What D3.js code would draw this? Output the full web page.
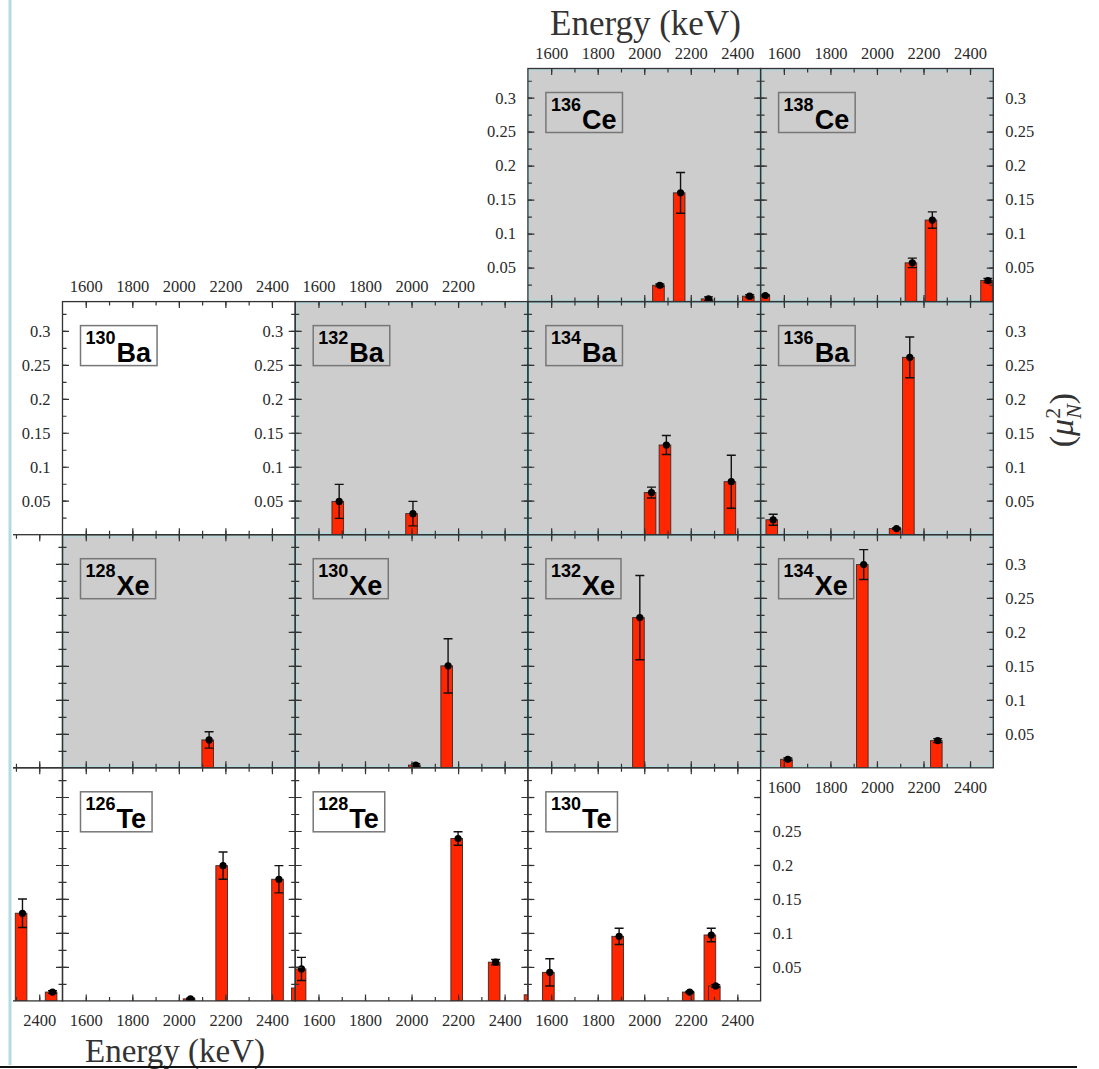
<!DOCTYPE html>
<html>
<head>
<meta charset="utf-8">
<style>
  html, body { margin: 0; padding: 0; background: #fff; }
  svg { display: block; }
</style>
</head>
<body>
<svg width="1099" height="1069"></svg>
<script src="https://cdn.jsdelivr.net/npm/d3@7"></script>
<script>

// each point: [energy keV, B(M1) value, error]
var ce136 = [[2067, 0.024, 0.002], [2156, 0.16, 0.03], [2276, 0.004, 0.003], [2453, 0.008, 0.002]];
var ce138 = [[1520, 0.009, 0.001], [2152, 0.057, 0.007], [2238, 0.12, 0.012], [2477, 0.031, 0.003]];
var ba130 = [];
var ba132 = [[1689, 0.049, 0.025], [2006, 0.031, 0.018]];
var ba134 = [[2031, 0.062, 0.008], [2095, 0.132, 0.014], [2374, 0.078, 0.039]];
var ba136 = [[1554, 0.022, 0.008], [2084, 0.009, 0.001], [2141, 0.261, 0.03]];
var xe128 = [[2130, 0.041, 0.012]];
var xe130 = [[2018, 0.004, 0.002], [2157, 0.15, 0.04]];
var xe132 = [[1981, 0.221, 0.062]];
var xe134 = [[1617, 0.0125, 0.002], [1943, 0.299, 0.022], [2261, 0.04, 0.003]];
var te126 = [[2050, 0.003, 0.001], [2190, 0.199, 0.02], [2430, 0.179, 0.02], [2515, 0.019, 0]];
var te128 = [[1527, 0.047, 0.017], [2200, 0.239, 0.01], [2361, 0.057, 0.004], [2515, 0.009, 0]];
var te130 = [[1594, 0.042, 0.02], [1892, 0.095, 0.012], [2195, 0.013, 0.001], [2288, 0.097, 0.01], [2307, 0.022, 0.002]];
// panels cut off at the left edge of the picture
var cutXe = [];
var cutTe = [[2328, 0.129, 0.021], [2457, 0.013, 0.002]];

var masses  = ["136", "138", "130", "132", "134", "136", "128", "130", "132", "134", "126", "128", "130", "", ""];
var symbols = ["Ce", "Ce", "Ba", "Ba", "Ba", "Ba", "Xe", "Xe", "Xe", "Xe", "Te", "Te", "Te", "", ""];
var series  = [ce136, ce138, ba130, ba132, ba134, ba136, xe128, xe130, xe132, xe134, te126, te128, te130, cutXe, cutTe];

var xMinor = [1600, 1700, 1800, 1900, 2000, 2100, 2200, 2300, 2400];
var xMajor = [1600, 1800, 2000, 2200, 2400];
var yMinor = [0.025, 0.05, 0.075, 0.1, 0.125, 0.15, 0.175, 0.2, 0.225, 0.25, 0.275, 0.3, 0.325];
var yMajor = [0.05, 0.1, 0.15, 0.2, 0.25, 0.3];
var eDomain = [1500, 2500], bDomain = [0, 0.343];

// grid cell of each panel: row, column, gray background
var cells = [[1,3,1],[1,4,1],[2,1,0],[2,2,1],[2,3,1],[2,4,1],[3,1,1],[3,2,1],[3,3,1],[3,4,1],[4,1,0],[4,2,0],[4,3,0],[3,0,0],[4,0,0]];

var X0 = 62.5, CW = 232.7, Y0 = 68.5, RH = 233.1, CUT = 13;
var serif = "'Liberation Serif','Times New Roman',serif";
var sans = "'Liberation Sans',Arial,Helvetica,sans-serif";

var svg = d3.select("svg");
var defs = svg.append("defs");

function scales(row, col) {
  var l = X0 + (col - 1) * CW, t = Y0 + (row - 1) * RH;
  return {
    l: l, t: t,
    x: d3.scaleLinear().domain(eDomain).range([l, l + CW]),
    y: d3.scaleLinear().domain(bDomain).range([t + RH, t])
  };
}

// left edge strip of the screenshot
svg.append("line").attr("x1", 10).attr("x2", 10).attr("y1", 0).attr("y2", 1065)
  .attr("stroke", "#b3dbe2").attr("stroke-width", 3);

var layerBg = svg.append("g"), layerAxes = svg.append("g"), layerText = svg.append("g");

cells.forEach(function(c, i) {
  var s = scales(c[0], c[1]);
  var clipL = Math.max(s.l, CUT);
  var id = "clip" + i;
  defs.append("clipPath").attr("id", id).append("rect")
    .attr("x", clipL).attr("y", s.t).attr("width", s.l + CW - clipL).attr("height", RH);
  defs.append("clipPath").attr("id", "cut" + i).append("rect")
    .attr("x", clipL - (c[1] == 0 ? 0 : 20)).attr("y", s.t - 20).attr("width", s.l + CW - clipL + 40).attr("height", RH + 40);

  var g = layerBg.append("g").attr("clip-path", "url(#" + id + ")");
  g.append("rect").attr("x", s.l).attr("y", s.t).attr("width", CW).attr("height", RH)
    .attr("fill", c[2] ? "#cdcdcd" : "#fff");
  if (c[2]) {
    g.append("rect").attr("x", s.l + 1.5).attr("y", s.t + 1.5).attr("width", CW - 3).attr("height", RH - 3)
      .attr("fill", "none").attr("stroke", "#b0d8dc").attr("stroke-width", 1.2);
  }

  var pts = series[i];
  g.selectAll("rect.bar").data(pts).enter().append("rect")
    .attr("class", "bar")
    .attr("x", function(d) { return s.x(d[0] - 31); })
    .attr("width", function(d) { return s.x(d[0] + 19) - s.x(d[0] - 31); })
    .attr("y", function(d) { return s.y(d[1]); })
    .attr("height", function(d) { return s.y(0) - s.y(d[1]); })
    .attr("fill", "#ff2600").attr("stroke", "#3a2a28").attr("stroke-width", 0.9);

  var eb = g.selectAll("g.err").data(pts.filter(function(d) { return d[2] > 0; })).enter().append("g");
  eb.append("line")
    .attr("x1", function(d) { return s.x(d[0]); }).attr("x2", function(d) { return s.x(d[0]); })
    .attr("y1", function(d) { return s.y(d[1] - d[2]); }).attr("y2", function(d) { return s.y(d[1] + d[2]); });
  eb.append("line")
    .attr("x1", function(d) { return s.x(d[0]) - 4.5; }).attr("x2", function(d) { return s.x(d[0]) + 4.5; })
    .attr("y1", function(d) { return s.y(d[1] + d[2]); }).attr("y2", function(d) { return s.y(d[1] + d[2]); });
  eb.append("line")
    .attr("x1", function(d) { return s.x(d[0]) - 4.5; }).attr("x2", function(d) { return s.x(d[0]) + 4.5; })
    .attr("y1", function(d) { return s.y(d[1] - d[2]); }).attr("y2", function(d) { return s.y(d[1] - d[2]); });
  eb.selectAll("line").attr("stroke", "#111").attr("stroke-width", 1.4);

  g.selectAll("circle").data(pts).enter().append("circle")
    .attr("cx", function(d) { return s.x(d[0]); })
    .attr("cy", function(d) { return s.y(d[1]); })
    .attr("r", 3.6).attr("fill", "#000");

  // frame and inward ticks on all four sides
  var a = layerAxes.append("g").attr("clip-path", "url(#cut" + i + ")");
  a.append("rect").attr("x", s.l).attr("y", s.t).attr("width", CW).attr("height", RH)
    .attr("fill", "none").attr("stroke", "#333").attr("stroke-width", 1.3);
  [[xMinor, 4], [xMajor, 6.5]].forEach(function(v) {
    a.append("g").attr("transform", "translate(0," + (s.t + RH) + ")")
      .call(d3.axisBottom(s.x).tickValues(v[0]).tickSize(-v[1]).tickFormat(""));
    a.append("g").attr("transform", "translate(0," + s.t + ")")
      .call(d3.axisTop(s.x).tickValues(v[0]).tickSize(-v[1]).tickFormat(""));
  });
  [[yMinor, 4], [yMajor, 6.5]].forEach(function(v) {
    a.append("g").attr("transform", "translate(" + s.l + ",0)")
      .call(d3.axisLeft(s.y).tickValues(v[0]).tickSize(-v[1]).tickFormat(""));
    a.append("g").attr("transform", "translate(" + (s.l + CW) + ",0)")
      .call(d3.axisRight(s.y).tickValues(v[0]).tickSize(-v[1]).tickFormat(""));
  });
  a.selectAll(".domain").remove();
  a.selectAll(".tick line").attr("stroke", "#333").attr("stroke-width", 1.2);

  // nucleus label box
  if (masses[i]) {
    var bx = s.l + 18, by = s.t + 24;
    var lg = layerText.append("g");
    var box = lg.append("rect");
    var sup = lg.append("text").attr("x", bx + 5).attr("y", by + 18.5)
      .style("font-family", sans).style("font-weight", "bold").style("font-size", "18px").text(masses[i]);
    var w1 = sup.node().getComputedTextLength();
    var el = lg.append("text").attr("x", bx + 6 + w1).attr("y", by + 36.5)
      .style("font-family", sans).style("font-weight", "bold").style("font-size", "27px").text(symbols[i]);
    var w2 = el.node().getComputedTextLength();
    box.attr("x", bx).attr("y", by).attr("width", w1 + w2 + 12).attr("height", 40)
      .attr("fill", c[2] ? "none" : "#fff").attr("stroke", "#777").attr("stroke-width", 1.5);
  }
});

// tick labels
function styleAxis(g) {
  g.select(".domain").remove();
  g.attr("font-family", serif).attr("font-size", 16.5);
  g.selectAll("text").attr("fill", "#2a2a2a");
}
var topLabels = [[1, 3, xMajor], [1, 4, xMajor], [2, 1, xMajor], [2, 2, [1600, 1800, 2000, 2200]]];
topLabels.forEach(function(c) {
  var s = scales(c[0], c[1]);
  layerText.append("g").attr("transform", "translate(0," + s.t + ")")
    .call(d3.axisTop(s.x).tickValues(c[2]).tickSize(0).tickPadding(10).tickFormat(d3.format("d")))
    .call(styleAxis);
});
var bottomLabels = [[4, 0], [4, 1], [4, 2], [4, 3], [3, 4]];
bottomLabels.forEach(function(c) {
  var s = scales(c[0], c[1]);
  var g = layerText.append("g").attr("transform", "translate(0," + (s.t + RH) + ")")
    .call(d3.axisBottom(s.x).tickValues(xMajor).tickSize(0).tickPadding(13).tickFormat(d3.format("d")))
    .call(styleAxis);
  g.selectAll(".tick").filter(function(d) { return s.x(d) < CUT + 20; }).remove();
});
var leftLabels = [[1, 3, yMajor], [2, 1, yMajor], [2, 2, yMajor]];
leftLabels.forEach(function(c) {
  var s = scales(c[0], c[1]);
  layerText.append("g").attr("transform", "translate(" + s.l + ",0)")
    .call(d3.axisLeft(s.y).tickValues(c[2]).tickSize(0).tickPadding(12).tickFormat(String))
    .call(styleAxis);
});
var rightLabels = [[1, 4, yMajor], [2, 4, yMajor], [3, 4, yMajor], [4, 3, [0.05, 0.1, 0.15, 0.2, 0.25]]];
rightLabels.forEach(function(c) {
  var s = scales(c[0], c[1]);
  layerText.append("g").attr("transform", "translate(" + (s.l + CW) + ",0)")
    .call(d3.axisRight(s.y).tickValues(c[2]).tickSize(0).tickPadding(12).tickFormat(String))
    .call(styleAxis);
});

// axis titles
layerText.append("text").attr("x", 550).attr("y", 35)
  .style("font-family", serif).style("font-size", "35px").attr("fill", "#333").text("Energy (keV)");
layerText.append("text").attr("x", 85).attr("y", 1061.5)
  .style("font-family", serif).style("font-size", "33px").attr("fill", "#333").text("Energy (keV)");

var yt = layerText.append("text").attr("transform", "translate(1073,420) rotate(-90)")
  .attr("text-anchor", "middle").style("font-family", serif).style("font-size", "34px").attr("fill", "#333");
yt.append("tspan").text("(");
yt.append("tspan").text("\u03bc").style("font-style", "italic");
yt.append("tspan").text("2").attr("dy", -13).style("font-size", "22px");
yt.append("tspan").text("N").attr("dx", -11).attr("dy", 21).style("font-size", "22px").style("font-style", "italic");
yt.append("tspan").text(")").attr("dy", -8);

// bottom edge of the screenshot
svg.append("line").attr("x1", 0).attr("x2", 1077).attr("y1", 1067).attr("y2", 1067)
  .attr("stroke", "#111").attr("stroke-width", 2);

</script>
</body>
</html>
